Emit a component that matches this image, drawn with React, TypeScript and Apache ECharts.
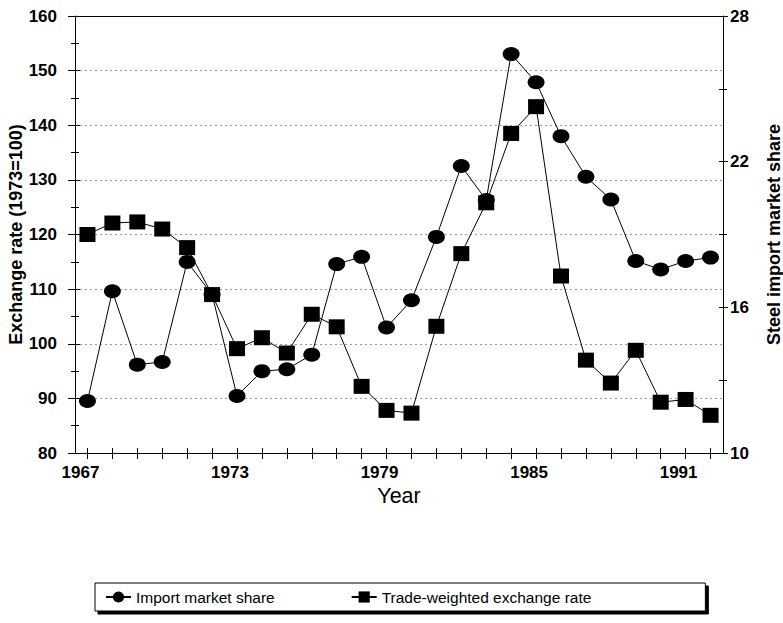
import React, { useEffect, useRef } from "react";
import * as echarts from "echarts";

const years = [
  "1967", "1968", "1969", "1970", "1971", "1972", "1973", "1974", "1975",
  "1976", "1977", "1978", "1979", "1980", "1981", "1982", "1983", "1984",
  "1985", "1986", "1987", "1988", "1989", "1990", "1991", "1992",
];

const exchangeRate = [
  120, 122.1, 122.3, 121.0, 117.6, 109.0, 99.1, 101.1, 98.3, 105.4, 103.1,
  92.2, 87.8, 87.3, 103.2, 116.5, 125.8, 138.5, 143.4, 112.4, 97.0, 92.8,
  98.8, 89.3, 89.8, 86.9,
];

const importShare = [
  12.14, 16.66, 13.64, 13.75, 17.87, 16.53, 12.35, 13.37, 13.45, 14.05,
  17.78, 18.08, 15.17, 16.29, 18.9, 21.82, 20.42, 26.43, 25.27, 23.05, 21.38,
  20.44, 17.91, 17.56, 17.91, 18.05,
];

const FONT = "'Liberation Sans', Arial, sans-serif";

export default function App() {
  const ref = useRef<HTMLDivElement>(null);
  useEffect(() => {
    if (!ref.current) return;
    const chart = echarts.init(ref.current, undefined, { renderer: "svg" });
    const tickLabel = {
      color: "#000",
      fontFamily: FONT,
      fontWeight: "bold" as const,
      fontSize: 17,
    };
    const blackLine = { color: "#000", width: 1 };
    chart.setOption({
      animation: false,
      backgroundColor: "#fff",
      textStyle: { fontFamily: FONT, color: "#000" },
      grid: {
        left: 75,
        right: 60,
        top: 16,
        bottom: 170,
        containLabel: false,
        outerBoundsMode: "none",
      },
      legend: {
        left: 95,
        top: 583,
        padding: [6, 114, 6, 10],
        itemGap: 76,
        itemWidth: 25,
        itemHeight: 14,
        borderColor: "#000",
        borderWidth: 1,
        backgroundColor: "#fff",
        shadowColor: "#000",
        shadowOffsetX: 3,
        shadowOffsetY: 3,
        shadowBlur: 0,
        textStyle: { fontSize: 15.5, color: "#000", fontFamily: FONT },
        data: ["Import market share", "Trade-weighted exchange rate"],
      },
      xAxis: [
        {
          type: "category",
          data: years,
          boundaryGap: true,
          name: "Year",
          nameLocation: "middle",
          nameGap: 32,
          nameMoveOverlap: false,
          nameTextStyle: { fontSize: 21.5, color: "#000", fontFamily: FONT },
          axisLine: { show: true, lineStyle: blackLine },
          axisTick: {
            show: true,
            alignWithLabel: true,
            interval: 0,
            length: 6,
            lineStyle: { color: "#000" },
          },
          axisLabel: { ...tickLabel, interval: 5, margin: 11, padding: [0, 14, 0, 0] },
          splitLine: { show: false },
        },
        {
          type: "category",
          data: years,
          position: "top",
          axisLine: { show: true, lineStyle: blackLine },
          axisTick: { show: false },
          axisLabel: { show: false },
          splitLine: { show: false },
        },
        {
          type: "category",
          data: years,
          position: "bottom",
          offset: 0,
          axisLine: { show: false },
          axisTick: {
            show: true,
            inside: true,
            alignWithLabel: true,
            interval: 0,
            length: 5,
            lineStyle: { color: "#000" },
          },
          axisLabel: { show: false },
          splitLine: { show: false },
        },
      ],
      yAxis: [
        {
          type: "value",
          min: 80,
          max: 160,
          interval: 10,
          position: "left",
          name: "Exchange rate (1973=100)",
          nameLocation: "middle",
          nameGap: 50,
          nameMoveOverlap: false,
          nameRotate: 90,
          nameTextStyle: { fontSize: 18, fontWeight: "bold", color: "#000", fontFamily: FONT },
          axisLine: { show: true, lineStyle: blackLine },
          axisTick: { show: true, length: 7, lineStyle: { color: "#000" } },
          minorTick: { show: true, splitNumber: 2, length: 4, lineStyle: { color: "#000" } },
          axisLabel: { ...tickLabel, margin: 18 },
          splitLine: {
            show: true,
            lineStyle: { color: "#999", type: [2, 3], width: 1 },
          },
        },
        {
          type: "value",
          min: 10,
          max: 28,
          interval: 6,
          position: "right",
          name: "Steel import market share",
          nameLocation: "middle",
          nameGap: 42,
          nameMoveOverlap: false,
          nameRotate: 90,
          nameTextStyle: { fontSize: 18, fontWeight: "bold", color: "#000", fontFamily: FONT },
          axisLine: { show: true, lineStyle: blackLine },
          axisTick: { show: true, length: 5, lineStyle: { color: "#000" } },
          minorTick: { show: true, splitNumber: 2, length: 4, lineStyle: { color: "#000" } },
          axisLabel: { ...tickLabel, margin: 7 },
          splitLine: { show: false },
        },
        {
          type: "value",
          min: 80,
          max: 160,
          interval: 10,
          position: "left",
          offset: 0,
          axisLine: { show: false },
          axisTick: { show: true, inside: true, length: 5, lineStyle: { color: "#000" } },
          minorTick: { show: true, splitNumber: 2, length: 4, lineStyle: { color: "#000" } },
          axisLabel: { show: false },
          splitLine: { show: false },
        },
        {
          type: "value",
          min: 10,
          max: 28,
          interval: 6,
          position: "right",
          offset: 0,
          axisLine: { show: false },
          axisTick: { show: true, inside: true, length: 4, lineStyle: { color: "#000" } },
          minorTick: { show: true, splitNumber: 2, length: 4, lineStyle: { color: "#000" } },
          axisLabel: { show: false },
          splitLine: { show: false },
        },
      ],
      series: [
        {
          name: "Import market share",
          type: "line",
          yAxisIndex: 1,
          data: importShare,
          symbol: "circle",
          symbolSize: [17, 14],
          itemStyle: { color: "#000" },
          lineStyle: { color: "#000", width: 1 },
        },
        {
          name: "Trade-weighted exchange rate",
          type: "line",
          yAxisIndex: 0,
          data: exchangeRate,
          symbol: "rect",
          symbolSize: [16, 15],
          itemStyle: { color: "#000" },
          lineStyle: { color: "#000", width: 1 },
        },
      ],
    });
    return () => chart.dispose();
  }, []);
  return (
    <div
      ref={ref}
      style={{ position: "fixed", left: 0, top: 0, width: 783, height: 623, background: "#fff" }}
    />
  );
}
